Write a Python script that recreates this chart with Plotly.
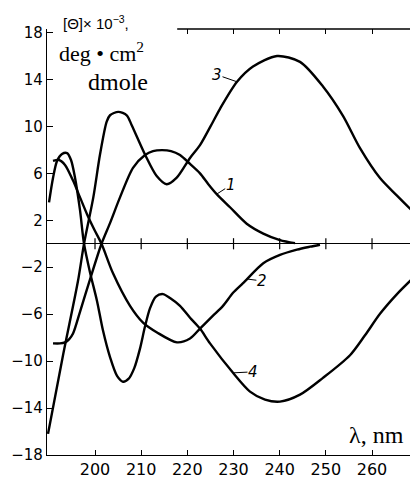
import plotly.graph_objects as go

# ---- data ----
wl1 = [190.9, 192.4, 193.5, 194.37, 195.24, 196.75, 198.92, 201.41, 203.25, 205.41, 208.23,
       210.83, 212.56, 214.51, 216.46, 218.41, 220.58, 222.74, 224.5, 226.36, 229.24, 232.86,
       236.45, 240.07, 243.32]
cd1 = [-8.49, -8.49, -8.4, -8.15, -7.65, -5.8, -3.03, 0.0, 1.76, 3.95, 6.47,
       7.56, 7.9, 7.98, 7.9, 7.56, 6.8, 6.0, 5.1, 4.23, 3.11, 1.71,
       0.87, 0.31, 0.05]

wl2 = [190.9, 192.2, 193.5, 195.24, 196.75, 198.27, 199.78, 201.41, 203.9, 207.58, 210.4,
       213.43, 217.76, 220.58, 222.74, 225.56, 227.72, 229.9, 232.06, 236.45, 240.07, 243.75,
       246.57, 248.73]
cd2 = [7.06, 7.14, 6.72, 5.38, 3.95, 2.52, 1.26, 0.0, -2.52, -5.29, -6.72,
       -7.56, -8.4, -8.07, -7.23, -6.13, -5.29, -4.18, -3.36, -1.66, -0.95, -0.5,
       -0.25, -0.08]

wl3 = [189.82, 193.07, 196.3, 197.62, 199.63, 201.08, 202.53, 203.25, 205.05, 206.87, 207.95,
       210.83, 213.36, 215.53, 217.7, 220.58, 222.74, 225.56, 227.07, 230.76, 234.22, 239.42,
       244.4, 249.38, 253.71, 257.4, 261.73, 265.41, 269.74]
cd3 = [-16.2, -9.5, -3.2, 0.0, 3.95, 7.6, 10.4, 10.95, 11.24, 10.95, 10.1,
       7.6, 5.77, 5.07, 5.63, 7.31, 8.4, 10.4, 11.5, 13.8, 15.1, 16.0,
       15.5, 13.4, 10.9, 8.15, 5.6, 4.1, 2.4]

wl4 = [190.04, 190.9, 191.77, 192.85, 193.94, 194.8, 195.67, 196.75, 197.62, 198.92, 200.43,
       201.73, 203.25, 204.77, 206.06, 207.3, 208.5, 209.7, 210.8, 211.9, 213.2, 214.73,
       216.24, 218.41, 220.58, 222.74, 224.91, 229.89, 233.57, 236.82, 240.07, 244.4, 249.38,
       255.23, 258.48, 261.73, 265.41, 269.74]
cd4 = [3.53, 5.6, 7.06, 7.65, 7.73, 7.14, 5.63, 2.86, 0.0, -2.44, -4.87,
       -7.4, -9.66, -11.26, -11.76, -11.5, -10.6, -9.0, -7.1, -5.5, -4.5, -4.29,
       -4.62, -5.29, -6.3, -7.23, -8.49, -11.0, -12.6, -13.28, -13.45, -12.86, -11.43,
       -9.5, -7.8, -5.97, -4.29, -2.6]

x_ticks = [200, 210, 220, 230, 240, 250, 260]
top_ticks = [220, 230, 240, 250, 260]
y_ticks = [-18, -14, -10, -6, -2, 2, 6, 10, 14, 18]
right_ticks = [-14, -10, -6, -2, 2, 6, 10, 14]

curve_labels = ["1", "2", "3", "4"]
label_points = [(226.36, 4.23), (232.9, -3.0), (230.76, 13.8), (229.89, -11.0)]
label_offsets = [(14, -9), (15, 2), (-20, -7), (20, -1)]

XR = [189.6, 269.96]
YR = [-18, 18.3]

fig = go.Figure()
for wl, cd in [(wl1, cd1), (wl2, cd2), (wl3, cd3), (wl4, cd4)]:
    fig.add_trace(go.Scatter(x=wl, y=cd, mode="lines",
                             line=dict(color="black", width=2.4, shape="spline", smoothing=0.8),
                             showlegend=False, hoverinfo="skip"))

# crossing ticks on the zero line
fig.add_trace(go.Scatter(x=x_ticks, y=[0] * len(x_ticks), mode="markers",
                         marker=dict(symbol="line-ns-open", size=8, color="black",
                                     line=dict(color="black", width=1.2)),
                         showlegend=False, hoverinfo="skip"))
# invisible trace to activate secondary axes
fig.add_trace(go.Scatter(x=[XR[0]], y=[0], xaxis="x2", yaxis="y2", mode="markers",
                         marker=dict(opacity=0), showlegend=False, hoverinfo="skip"))

tickfont = dict(family="DejaVu Sans", size=15, color="black")
# page body has an 8px default margin: figure is 410x471 so it fits the 418x479 window
fig.update_layout(
    width=410, height=471,
    margin=dict(l=39, r=0, t=21, b=20),
    paper_bgcolor="white", plot_bgcolor="white",
    xaxis=dict(range=XR, tickvals=x_ticks, ticktext=[str(v) for v in x_ticks],
               ticks="inside", ticklen=5, tickwidth=1.2, tickcolor="black",
               showline=True, linecolor="black", linewidth=1.3, showgrid=False,
               zeroline=False, tickfont=dict(family="DejaVu Sans", size=16, color="black")),
    yaxis=dict(range=YR, tickvals=y_ticks, ticktext=[str(v).replace("-", "\u2212") for v in y_ticks],
               ticks="inside", ticklen=6, tickwidth=1.2, tickcolor="black",
               showline=True, linecolor="black", linewidth=1.3, showgrid=False,
               zeroline=True, zerolinecolor="black", zerolinewidth=1.2, tickfont=tickfont),
    xaxis2=dict(range=XR, overlaying="x", side="top", anchor="y2", tickvals=top_ticks,
                ticks="inside", ticklen=5, tickwidth=1.2, tickcolor="black",
                showticklabels=False, showline=False, showgrid=False, zeroline=False),
    yaxis2=dict(range=YR, overlaying="y", side="right", anchor="x2", tickvals=right_ticks,
                ticks="inside", ticklen=5, tickwidth=1.2, tickcolor="black",
                showticklabels=False, showline=False, showgrid=False, zeroline=False),
)

# partial top frame line
fig.add_shape(type="line", xref="x", yref="paper", x0=217.8, x1=XR[1], y0=1, y1=1,
              line=dict(color="black", width=1.3))

# curve number labels with leader lines
for lab, (px, py), (ax, ay) in zip(curve_labels, label_points, label_offsets):
    fig.add_annotation(x=px, y=py, xref="x", yref="y", text="<i>" + lab + "</i>",
                       showarrow=True, arrowhead=0, arrowwidth=1, arrowcolor="black",
                       ax=ax, ay=ay, standoff=0, borderpad=0,
                       font=dict(family="DejaVu Sans", size=15, color="black"))

serif = "Liberation Serif"
fig.add_annotation(xref="paper", yref="paper", x=(61 - 47) / 371, y=(459 - 22) / 430,
                   xanchor="left", yanchor="middle",
                   text="[Θ]× 10<sup>−3</sup>,", showarrow=False,
                   font=dict(family="Liberation Sans", size=15, color="black"))
fig.add_annotation(xref="paper", yref="paper", x=(57 - 47) / 371, y=(459 - 52) / 430,
                   xanchor="left", yanchor="middle",
                   text="deg • cm<sup>2</sup>", showarrow=False,
                   font=dict(family=serif, size=22, color="black"))
fig.add_annotation(xref="paper", yref="paper", x=(86 - 47) / 371, y=(459 - 82) / 430,
                   xanchor="left", yanchor="middle",
                   text="dmole", showarrow=False,
                   font=dict(family=serif, size=24, color="black"))
fig.add_annotation(xref="paper", yref="paper", x=(347 - 47) / 371, y=(459 - 439) / 430,
                   xanchor="left", yanchor="middle",
                   text="λ, nm", showarrow=False,
                   font=dict(family=serif, size=24, color="black"))

fig.write_html("out.html")
